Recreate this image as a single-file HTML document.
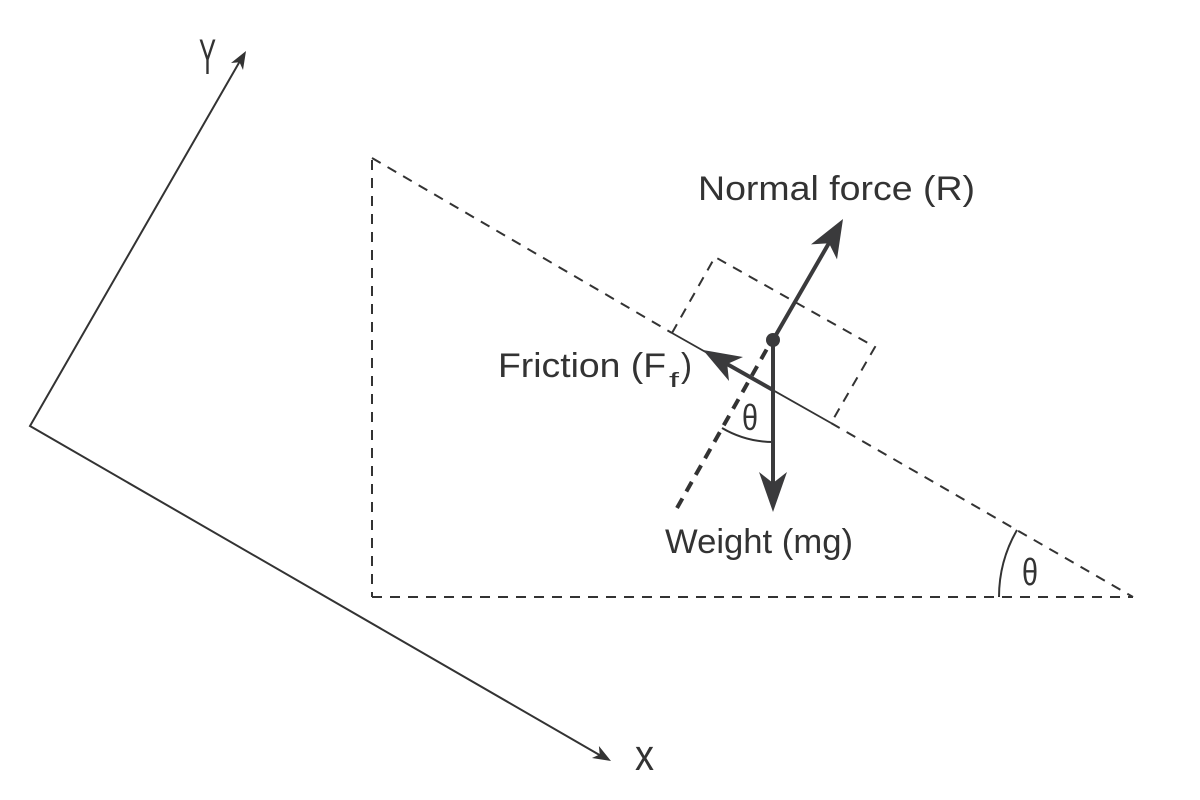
<!DOCTYPE html>
<html>
<head>
<meta charset="utf-8">
<style>
html,body{margin:0;padding:0;background:#fff;}
svg{display:block;}
text{font-family:"Liberation Sans",sans-serif;fill:#333;}
</style>
</head>
<body>
<svg width="1200" height="800" viewBox="0 0 1200 800" xmlns="http://www.w3.org/2000/svg">
  <rect width="1200" height="800" fill="#fff"/>
  <!-- axes -->
  <g stroke="#333" stroke-width="2" fill="none">
    <polyline points="240,61 30,426 603,757"/>
  </g>
  <path d="M246,51 L243,70 L239.5,62.3 L231,63 Z" fill="#333"/>
  <path d="M611,761 L591.9,758 L599.7,754.5 L598.9,746 Z" fill="#333"/>
  <text x="199" y="74" font-size="50" textLength="17" lengthAdjust="spacingAndGlyphs">Y</text>
  <text x="635" y="770" font-size="44" textLength="19" lengthAdjust="spacingAndGlyphs">x</text>

  <!-- triangle (incline) -->
  <g stroke="#333" stroke-width="2" fill="none" stroke-dasharray="10,8">
    <line x1="372" y1="160" x2="372" y2="597"/>
    <line x1="372" y1="597" x2="1133" y2="597"/>
    <line x1="372" y1="158" x2="672" y2="333"/>
    <line x1="831" y1="423" x2="1133" y2="597"/>
  </g>
  <!-- incline angle -->
  <path d="M999,597 A134,134 0 0 1 1017,530" stroke="#333" stroke-width="2" fill="none"/>
  <text x="1022" y="585" font-size="38" textLength="16" lengthAdjust="spacingAndGlyphs">θ</text>

  <!-- block -->
  <g stroke="#333" stroke-width="2" fill="none" stroke-dasharray="10,8">
    <polyline points="672,333 715,257 875,347 831,423"/>
  </g>
  <line x1="672" y1="333" x2="831" y2="423" stroke="#333" stroke-width="1.8"/>

  <!-- thick dashed perpendicular -->
  <line x1="677" y1="508" x2="768" y2="347" stroke="#333" stroke-width="4" stroke-dasharray="11,8"/>

  <!-- block angle -->
  <path d="M722,428 A102,102 0 0 0 773,442" stroke="#333" stroke-width="2" fill="none"/>
  <text x="742" y="430" font-size="36" textLength="16" lengthAdjust="spacingAndGlyphs">θ</text>

  <!-- friction arrow -->
  <line x1="773" y1="390" x2="727" y2="364" stroke="#3a3a3c" stroke-width="4"/>
  <path d="M703,350 L743,357 L727.2,364 L729,381 Z" fill="#3a3a3c"/>

  <!-- normal arrow -->
  <line x1="773" y1="340" x2="829" y2="243" stroke="#3a3a3c" stroke-width="4"/>
  <path d="M843,219 L837,259.4 L829,243.2 L811,244.4 Z" fill="#3a3a3c"/>

  <!-- weight arrow -->
  <line x1="773" y1="340" x2="773" y2="484" stroke="#3a3a3c" stroke-width="4"/>
  <path d="M773,512 L759,472 L773,483 L787,472 Z" fill="#3a3a3c"/>

  <!-- center dot -->
  <circle cx="773" cy="340" r="7" fill="#3a3a3c"/>

  <!-- labels -->
  <text x="698" y="200" font-size="34" textLength="277" lengthAdjust="spacingAndGlyphs">Normal force (R)</text>
  <text x="498" y="377" font-size="34" textLength="168" lengthAdjust="spacingAndGlyphs">Friction (F</text>
  <text x="669" y="387" font-size="20" textLength="10" lengthAdjust="spacingAndGlyphs">f</text>
  <text x="681" y="377" font-size="34" textLength="11" lengthAdjust="spacingAndGlyphs">)</text>
  <text x="665" y="553" font-size="34" textLength="188" lengthAdjust="spacingAndGlyphs">Weight (mg)</text>
</svg>
</body>
</html>
